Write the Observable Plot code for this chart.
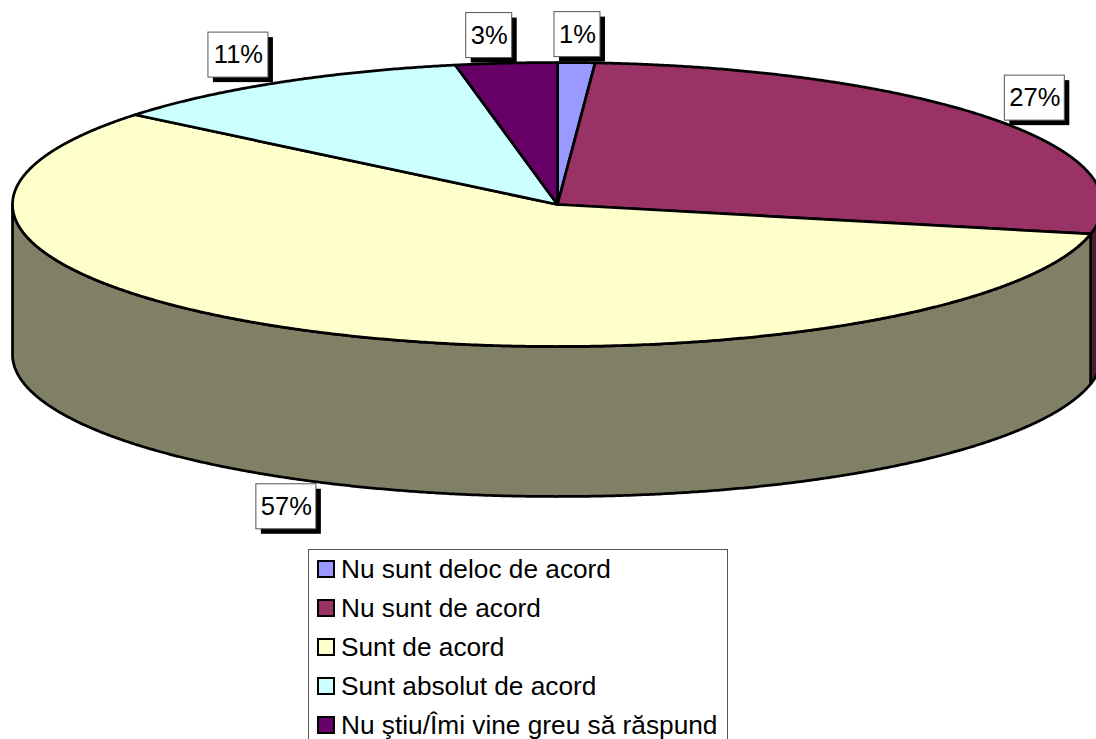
<!DOCTYPE html>
<html lang="ro">
<head>
<meta charset="utf-8">
<script src="https://cdn.jsdelivr.net/npm/d3@7"></script>
<script src="https://cdn.jsdelivr.net/npm/@observablehq/plot@0.6"></script>
<style>
  html, body { margin: 0; padding: 0; background: #fff; width: 1096px; height: 739px; overflow: hidden; }
  #chart svg { display: block; }
  #legend {
    box-sizing: border-box; position: absolute; left: 308px; top: 549px; width: 420px; height: 220px;
    border: 1px solid #555; background: #fff; padding-top: 0;
    font: 26.25px "Liberation Sans", Arial, sans-serif; color: #000;
  }
  .row { position: absolute; left: 8px; height: 39px; display: flex; align-items: center; white-space: nowrap; }
  .swatch { box-sizing: border-box; width: 18px; height: 18px; border: 2px solid #000; margin-right: 6px; flex: none; }
</style>
</head>
<body>
<div id="chart"></div>
<div id="legend"></div>
<script>
// Data
const categories = ["Nu sunt deloc de acord", "Nu sunt de acord", "Sunt de acord", "Sunt absolut de acord", "Nu ştiu/Îmi vine greu să răspund"];
const shares = [1.1, 27.2, 57.5, 11.1, 3.0];
const shareLabels = ["1%", "27%", "57%", "11%", "3%"];
const colors = ["#9999FF", "#993366", "#FFFFCC", "#CCFFFF", "#660066"];
const wallColors = ["#4D1A33", "#808066"];

// Layout
const W = 1096, H = 548;
const cx = 557, cy = 204, rx = 545, ry = 142, depthPx = 150;
const depth = depthPx / ry;
const labelReachX = [1.06, 1.097, 1.152, 1.143, 1.33];
const labelReachY = [1.197, 1.244, 1.189, 1.225, 1.195];

// Slices, clockwise from the top, in unit-ellipse coordinates
const total = d3.sum(shares);
let acc = 0;
const slices = shares.map((v, i) => {
  const a0 = acc / total * 2 * Math.PI; acc += v;
  return {i, category: categories[i], a0, a1: acc / total * 2 * Math.PI};
});
const pt = (a, drop = 0) => [Math.sin(a), Math.cos(a) - drop];
const arc = (a0, a1, drop = 0) => {
  const n = Math.max(2, Math.ceil((a1 - a0) / 0.005));
  return d3.range(n + 1).map(k => pt(a0 + (a1 - a0) * k / n, drop));
};

// Top faces
const topPoints = slices.flatMap(s =>
  [[0, 0], ...arc(s.a0, s.a1), [0, 0]].map(p => ({x: p[0], y: p[1], category: s.category})));

// Visible side walls: the front half of the ellipse, from 90° to 270°
const front0 = Math.PI / 2, front1 = 3 * Math.PI / 2;
const walls = slices.filter(s => s.a1 > front0 && s.a0 < front1).map((s, k) => {
  const a0 = Math.max(s.a0, front0), a1 = Math.min(s.a1, front1);
  const pts = [...arc(a0, a1), ...arc(a0, a1, depth).reverse()];
  pts.push(pts[0]);
  return {fill: wallColors[k], pts};
});

// Data labels
const unitX = 1 / rx, unitY = 1 / ry;
const labels = slices.map((s, i) => {
  const mid = (s.a0 + s.a1) / 2;
  const inFront = Math.cos(mid) < 0 && Math.abs(Math.sin(mid)) < 0.9;
  const x = Math.sin(mid) * labelReachX[i];
  const y = Math.cos(mid) * labelReachY[i] - (inFront ? depth : 0);
  const halfW = (shareLabels[i].length > 2 ? 30 : 23) * unitX;
  const halfH = 22.5 * unitY;
  return {label: shareLabels[i], x, y, x1: x - halfW, x2: x + halfW, y1: y - halfH, y2: y + halfH};
});

const chart = Plot.plot({
  width: W, height: H,
  margin: 0,
  x: {axis: null, domain: [-cx / rx, (W - cx) / rx], range: [0, W]},
  y: {axis: null, domain: [cy / ry, (cy - H) / ry], range: [0, H]},
  color: {domain: categories, range: colors},
  style: {background: "#fff", fontFamily: "'Liberation Sans', Arial, sans-serif"},
  marks: [
    ...walls.map(w => Plot.line(w.pts, {
      x: d => d[0], y: d => d[1], fill: w.fill, stroke: "#000", strokeWidth: 2.75, strokeLinejoin: "round", curve: "linear"
    })),
    Plot.line(topPoints, {
      x: "x", y: "y", z: "category", fill: "category", stroke: "#000", strokeWidth: 2.75, strokeLinejoin: "round", curve: "linear"
    }),
    Plot.rect(labels, {x1: "x1", x2: "x2", y1: "y1", y2: "y2", fill: "#000", dx: 5, dy: 5}),
    Plot.rect(labels, {x1: "x1", x2: "x2", y1: "y1", y2: "y2", fill: "#fff", stroke: "#555", strokeWidth: 1}),
    Plot.text(labels, {x: "x", y: "y", text: "label", fontSize: 25.5, fill: "#000", fontFamily: "'Liberation Sans', Arial, sans-serif"})
  ]
});
document.getElementById("chart").append(chart);

// Legend
const legend = document.getElementById("legend");
categories.forEach((c, i) => {
  const row = document.createElement("div");
  row.className = "row";
  row.style.top = (-0.5 + i * 39) + "px";
  const sw = document.createElement("span");
  sw.className = "swatch";
  sw.style.background = colors[i];
  const t = document.createElement("span");
  t.textContent = c;
  row.append(sw, t);
  legend.append(row);
});
</script>
</body>
</html>
